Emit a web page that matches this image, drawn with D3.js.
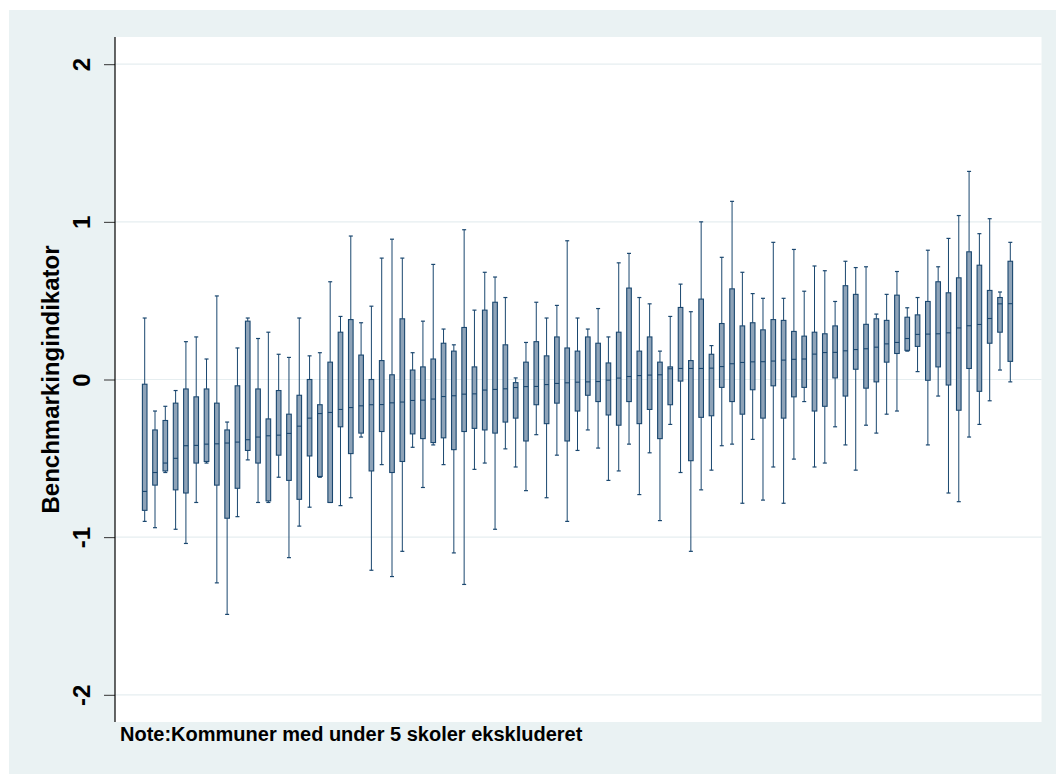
<!DOCTYPE html>
<html>
<head>
<meta charset="utf-8">
<script src="https://cdn.jsdelivr.net/npm/d3@7"></script>
<style>
  html, body { margin: 0; padding: 0; background: #ffffff; }
  svg { display: block; }
  text { font-family: "Liberation Sans", Arial, Helvetica, sans-serif; font-weight: bold; fill: #000; }
</style>
</head>
<body>
<svg id="chart" width="1056" height="774"></svg>
<script>
// Box-plot statistics per municipality, ordered by median
const whiskerHigh = [0.39, -0.20, -0.17, -0.07, 0.24, 0.27, 0.13, 0.53, -0.27, 0.20,
  0.39, 0.26, 0.30, 0.16, 0.14, 0.39, 0.15, 0.17, 0.62, 0.40,
  0.91, 0.36, 0.465, 0.77, 0.89, 0.77, 0.17, 0.37, 0.73, 0.32,
  0.22, 0.95, 0.44, 0.68, 0.65, 0.52, 0.01, 0.235, 0.49, 0.39,
  0.47, 0.88, 0.39, 0.32, 0.45, 0.27, 0.74, 0.80, 0.52, 0.48,
  0.18, 0.40, 0.605, 0.43, 1.00, 0.215, 0.775, 1.13, 0.68, 0.545,
  0.515, 0.87, 0.515, 0.825, 0.56, 0.72, 0.69, 0.495, 0.75, 0.71,
  0.715, 0.415, 0.54, 0.685, 0.455, 0.52, 0.82, 0.715, 0.895, 1.04,
  1.32, 0.925, 1.02, 0.555, 0.87];
const q3 = [-0.03, -0.32, -0.26, -0.15, -0.06, -0.11, -0.06, -0.15, -0.32, -0.04,
  0.37, -0.06, -0.25, -0.07, -0.22, -0.10, 0.00, -0.16, 0.11, 0.30,
  0.38, 0.155, 0.00, 0.12, 0.03, 0.385, 0.06, 0.08, 0.13, 0.23,
  0.18, 0.33, 0.08, 0.44, 0.49, 0.22, -0.02, 0.11, 0.24, 0.15,
  0.27, 0.20, 0.18, 0.27, 0.23, 0.105, 0.30, 0.58, 0.18, 0.27,
  0.11, 0.08, 0.457, 0.12, 0.51, 0.16, 0.355, 0.575, 0.34, 0.36,
  0.315, 0.38, 0.375, 0.305, 0.275, 0.30, 0.29, 0.34, 0.595, 0.54,
  0.35, 0.385, 0.375, 0.535, 0.395, 0.41, 0.495, 0.62, 0.55, 0.645,
  0.81, 0.725, 0.565, 0.52, 0.75];
const median = [-0.71, -0.59, -0.53, -0.50, -0.42, -0.418, -0.41, -0.408, -0.403, -0.397,
  -0.382, -0.365, -0.357, -0.353, -0.342, -0.296, -0.245, -0.216, -0.209, -0.19,
  -0.178, -0.167, -0.16, -0.159, -0.148, -0.143, -0.133, -0.131, -0.124, -0.108,
  -0.103, -0.093, -0.091, -0.067, -0.063, -0.059, -0.051, -0.045, -0.044, -0.032,
  -0.025, -0.021, -0.017, -0.015, -0.013, -0.004, 0.009, 0.019, 0.025, 0.028,
  0.03, 0.068, 0.07, 0.07, 0.07, 0.072, 0.082, 0.10, 0.108, 0.112,
  0.113, 0.117, 0.123, 0.128, 0.13, 0.161, 0.171, 0.172, 0.182, 0.19,
  0.195, 0.205, 0.226, 0.235, 0.26, 0.286, 0.288, 0.29, 0.296, 0.327,
  0.341, 0.349, 0.387, 0.48, 0.481];
const q1 = [-0.83, -0.67, -0.58, -0.70, -0.72, -0.53, -0.52, -0.67, -0.88, -0.69,
  -0.45, -0.53, -0.77, -0.48, -0.64, -0.76, -0.485, -0.615, -0.78, -0.30,
  -0.47, -0.34, -0.58, -0.33, -0.59, -0.52, -0.345, -0.375, -0.40, -0.37,
  -0.445, -0.33, -0.31, -0.32, -0.34, -0.27, -0.245, -0.39, -0.16, -0.28,
  -0.15, -0.39, -0.20, -0.10, -0.14, -0.225, -0.29, -0.14, -0.28, -0.19,
  -0.375, -0.16, -0.01, -0.515, -0.24, -0.23, -0.05, -0.14, -0.22, -0.065,
  -0.245, -0.04, -0.245, -0.11, -0.05, -0.20, -0.17, 0.01, -0.105, 0.065,
  -0.055, -0.015, 0.11, 0.165, 0.185, 0.21, -0.005, 0.08, -0.035, -0.195,
  0.07, -0.075, 0.23, 0.30, 0.115];
const whiskerLow = [-0.90, -0.94, -0.59, -0.95, -1.04, -0.78, -0.53, -1.29, -1.49, -0.87,
  -0.51, -0.78, -0.78, -0.62, -1.13, -0.93, -0.81, -0.62, -0.78, -0.80,
  -0.75, -0.365, -1.21, -0.54, -1.25, -1.09, -0.43, -0.685, -0.415, -0.54,
  -1.10, -1.30, -0.57, -0.53, -0.95, -0.44, -0.555, -0.705, -0.35, -0.75,
  -0.48, -0.90, -0.45, -0.32, -0.435, -0.64, -0.58, -0.41, -0.73, -0.465,
  -0.895, -0.285, -0.59, -1.09, -0.70, -0.575, -0.42, -0.41, -0.785, -0.38,
  -0.765, -0.555, -0.785, -0.505, -0.14, -0.555, -0.53, -0.30, -0.415, -0.575,
  -0.29, -0.34, -0.22, -0.20, 0.18, 0.05, -0.415, -0.105, -0.72, -0.775,
  -0.365, -0.285, -0.135, 0.06, -0.015];

// One group per municipality (group ids only, not drawn)
const groups = d3.range(1, median.length + 1);
const yTicks = [-2, -1, 0, 1, 2];
const yTitle = "Benchmarkingindikator";
const note = "Note:Kommuner med under 5 skoler ekskluderet";

const rows = groups.map((g, i) => ({
  group: g, lo: whiskerLow[i], q1: q1[i], med: median[i], q3: q3[i], hi: whiskerHigh[i]
}));

const svg = d3.select("#chart");
const W = 1056, H = 774;
const plot = { left: 115, right: 1041.5, top: 37, bottom: 722 };

const navy = "#1a476f";
const boxFill = "#8ea3b8";
const bgColor = "#eaf2f3";

// graph region
svg.append("rect").attr("x", 0).attr("y", 0).attr("width", W).attr("height", H).attr("fill", "#ffffff");
svg.append("rect").attr("x", 9).attr("y", 10).attr("width", W - 9).attr("height", H - 10).attr("fill", bgColor);
// plot region
svg.append("rect")
  .attr("x", plot.left).attr("y", plot.top)
  .attr("width", plot.right - plot.left).attr("height", plot.bottom - plot.top)
  .attr("fill", "#ffffff");

const y = d3.scaleLinear().domain([-2, 2]).range([694.8, 64.2]);
const x = d3.scalePoint().domain(groups).range([144.7, 1010.3]).padding(0);

// gridlines
svg.append("g").selectAll("line").data(yTicks).join("line")
  .attr("x1", plot.left).attr("x2", plot.right)
  .attr("y1", d => y(d)).attr("y2", d => y(d))
  .attr("stroke", "#e6eef0").attr("stroke-width", 1.2);

// y axis
const yAxis = d3.axisLeft(y).tickValues(yTicks).tickSize(11).tickPadding(0).tickFormat(d3.format("d"));
const gy = svg.append("g").attr("transform", `translate(${plot.left},0)`).call(yAxis);
gy.select(".domain").remove();
gy.selectAll(".tick line").attr("stroke", "#333").attr("stroke-width", 1);
gy.selectAll(".tick text")
  .attr("x", null).attr("dy", null)
  .attr("text-anchor", "middle")
  .attr("transform", "translate(-25.5,0) rotate(-90)")
  .style("font-size", "24px")
  .style("font-family", "'Liberation Sans', Arial, sans-serif")
  .style("font-weight", "bold")
  .text(d => d < 0 ? "-" + Math.abs(d) : String(d));
svg.append("line")
  .attr("x1", plot.left).attr("x2", plot.left)
  .attr("y1", plot.top).attr("y2", plot.bottom)
  .attr("stroke", "#000").attr("stroke-width", 1.2);

// y title
svg.append("text")
  .attr("transform", `translate(59,${(plot.top + plot.bottom) / 2}) rotate(-90)`)
  .attr("text-anchor", "middle")
  .style("font-size", "24px")
  .text(yTitle);

// boxes
const bw = 4.6, cap = 4;
const gBox = svg.append("g");
const box = gBox.selectAll("g.box").data(rows).join("g").attr("class", "box");

box.append("line")
  .attr("x1", d => x(d.group)).attr("x2", d => x(d.group))
  .attr("y1", d => y(d.hi)).attr("y2", d => y(d.q3))
  .attr("stroke", navy).attr("stroke-width", 1);
box.append("line")
  .attr("x1", d => x(d.group)).attr("x2", d => x(d.group))
  .attr("y1", d => y(d.q1)).attr("y2", d => y(d.lo))
  .attr("stroke", navy).attr("stroke-width", 1);
box.append("line")
  .attr("x1", d => x(d.group) - cap / 2).attr("x2", d => x(d.group) + cap / 2)
  .attr("y1", d => y(d.hi)).attr("y2", d => y(d.hi))
  .attr("stroke", navy).attr("stroke-width", 1.2);
box.append("line")
  .attr("x1", d => x(d.group) - cap / 2).attr("x2", d => x(d.group) + cap / 2)
  .attr("y1", d => y(d.lo)).attr("y2", d => y(d.lo))
  .attr("stroke", navy).attr("stroke-width", 1.2);
box.append("rect")
  .attr("x", d => x(d.group) - bw / 2).attr("width", bw)
  .attr("y", d => y(d.q3)).attr("height", d => Math.max(0.5, y(d.q1) - y(d.q3)))
  .attr("fill", boxFill).attr("stroke", navy).attr("stroke-width", 1.1);
box.append("line")
  .attr("x1", d => x(d.group) - bw / 2).attr("x2", d => x(d.group) + bw / 2)
  .attr("y1", d => y(d.med)).attr("y2", d => y(d.med))
  .attr("stroke", navy).attr("stroke-width", 1.1);

// note
svg.append("text")
  .attr("x", 120).attr("y", 741)
  .style("font-size", "20px")
  .text(note);
</script>
</body>
</html>
